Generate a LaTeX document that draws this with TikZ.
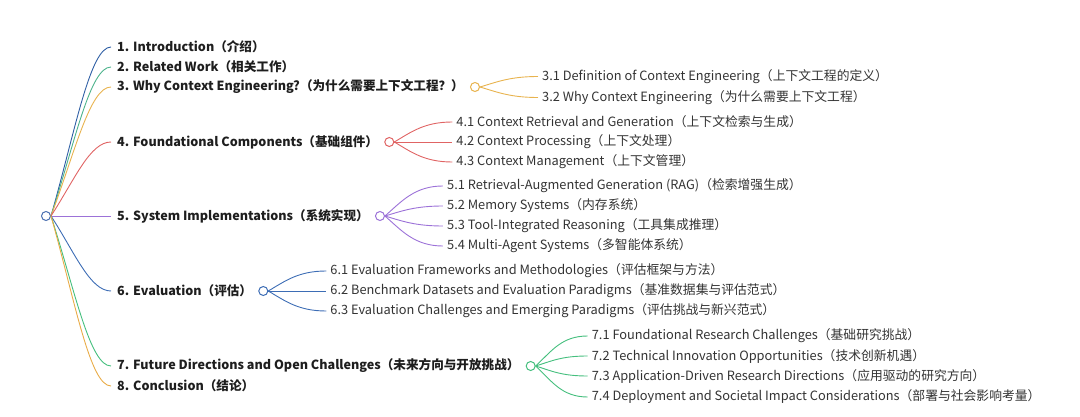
\documentclass[tikz,border=0pt]{standalone}
\usepackage{fontspec}
\setmainfont{Noto Sans CJK SC}
\usetikzlibrary{positioning}
\definecolor{cRoot}{HTML}{4A6FB0}
\definecolor{cIntro}{HTML}{2F5FA5}
\definecolor{cRelated}{HTML}{4DB38C}
\definecolor{cWhy}{HTML}{E8B34E}
\definecolor{cFound}{HTML}{E06464}
\definecolor{cSys}{HTML}{9C72D8}
\definecolor{cEval}{HTML}{3D6DB5}
\definecolor{cFuture}{HTML}{45BF7E}
\definecolor{cConcl}{HTML}{E9AC48}
\definecolor{inkdark}{HTML}{1E1E1E}
\definecolor{inksub}{HTML}{333333}
\tikzset{
  topic/.style={anchor=west, inner xsep=6pt, inner ysep=0pt, font=\fontsize{12.6}{14}\selectfont\bfseries, text=inkdark},
  sub/.style={inner xsep=4pt, inner ysep=0pt, font=\fontsize{12.8}{14}\selectfont, text=inksub},
  hub/.style={draw, circle, minimum size=9pt, inner sep=0pt, line width=1pt, fill=white},
  branch/.style={line width=0.9pt},
}
\begin{document}
\begin{tikzpicture}[x=1pt, y=-1pt]
  \useasboundingbox (0,0) rectangle (1080,417);
  % root and main topics
  \node[hub, draw=cRoot] (root) at (46,216) {};
  \node[topic] (t1) at (111,47) {1. Introduction（介绍）};
  \node[topic] (t2) at (111,67) {2. Related Work（相关工作）};
  \node[topic] (t3) at (111,87) {3. Why Context Engineering?（为什么需要上下文工程？）};
  \node[topic] (t4) at (111,142) {4. Foundational Components（基础组件）};
  \node[topic] (t5) at (111,216) {5. System Implementations（系统实现）};
  \node[topic] (t6) at (111,291) {6. Evaluation（评估）};
  \node[topic] (t7) at (111,366) {7. Future Directions and Open Challenges（未来方向与开放挑战）};
  \node[topic] (t8) at (111,386) {8. Conclusion（结论）};
  \draw[branch, cIntro] (root.east) .. controls +(24,-84) and +(-21,0) .. (t1.west);
  \draw[branch, cRelated] (root.east) .. controls +(24,-74) and +(-21,0) .. (t2.west);
  \draw[branch, cWhy] (root.east) .. controls +(24,-64) and +(-21,0) .. (t3.west);
  \draw[branch, cFound] (root.east) .. controls +(24,-37) and +(-21,0) .. (t4.west);
  \draw[branch, cSys] (root.east) -- (t5.west);
  \draw[branch, cEval] (root.east) .. controls +(24,37) and +(-21,0) .. (t6.west);
  \draw[branch, cFuture] (root.east) .. controls +(24,75) and +(-21,0) .. (t7.west);
  \draw[branch, cConcl] (root.east) .. controls +(24,85) and +(-21,0) .. (t8.west);
  % section 3
  \node[hub, draw=cWhy, right=0pt of t3] (h3) {};
  \node[sub, right=58pt of h3, yshift=10.5pt] (s31) {3.1 Definition of Context Engineering（上下文工程的定义）};
  \node[sub, right=58pt of h3, yshift=-10.5pt] (s32) {3.2 Why Context Engineering（为什么需要上下文工程）};
  \draw[branch, cWhy] (h3.east) .. controls +(17,-5) and +(-28,0) .. (s31.west);
  \draw[branch, cWhy] (h3.east) .. controls +(17,5) and +(-28,0) .. (s32.west);
  % section 4
  \node[hub, draw=cFound, right=0pt of t4] (h4) {};
  \node[sub, right=58pt of h4, yshift=20pt] (s41) {4.1 Context Retrieval and Generation（上下文检索与生成）};
  \node[sub, right=58pt of h4] (s42) {4.2 Context Processing（上下文处理）};
  \node[sub, right=58pt of h4, yshift=-20pt] (s43) {4.3 Context Management（上下文管理）};
  \draw[branch, cFound] (h4.east) .. controls +(17,-10) and +(-28,0) .. (s41.west);
  \draw[branch, cFound] (h4.east) -- (s42.west);
  \draw[branch, cFound] (h4.east) .. controls +(17,10) and +(-28,0) .. (s43.west);
  % section 5
  \node[hub, draw=cSys, right=0pt of t5] (h5) {};
  \node[sub, right=58pt of h5, yshift=30pt] (s51) {5.1 Retrieval-Augmented Generation (RAG)（检索增强生成）};
  \node[sub, right=58pt of h5, yshift=10pt] (s52) {5.2 Memory Systems（内存系统）};
  \node[sub, right=58pt of h5, yshift=-10pt] (s53) {5.3 Tool-Integrated Reasoning（工具集成推理）};
  \node[sub, right=58pt of h5, yshift=-30pt] (s54) {5.4 Multi-Agent Systems（多智能体系统）};
  \draw[branch, cSys] (h5.east) .. controls +(17,-15) and +(-28,0) .. (s51.west);
  \draw[branch, cSys] (h5.east) .. controls +(17,-5) and +(-28,0) .. (s52.west);
  \draw[branch, cSys] (h5.east) .. controls +(17,5) and +(-28,0) .. (s53.west);
  \draw[branch, cSys] (h5.east) .. controls +(17,15) and +(-28,0) .. (s54.west);
  % section 6
  \node[hub, draw=cEval, right=0pt of t6] (h6) {};
  \node[sub, right=58pt of h6, yshift=20pt] (s61) {6.1 Evaluation Frameworks and Methodologies（评估框架与方法）};
  \node[sub, right=58pt of h6] (s62) {6.2 Benchmark Datasets and Evaluation Paradigms（基准数据集与评估范式）};
  \node[sub, right=58pt of h6, yshift=-20pt] (s63) {6.3 Evaluation Challenges and Emerging Paradigms（评估挑战与新兴范式）};
  \draw[branch, cEval] (h6.east) .. controls +(17,-10) and +(-28,0) .. (s61.west);
  \draw[branch, cEval] (h6.east) -- (s62.west);
  \draw[branch, cEval] (h6.east) .. controls +(17,10) and +(-28,0) .. (s63.west);
  % section 7
  \node[hub, draw=cFuture, right=0pt of t7] (h7) {};
  \node[sub, right=52pt of h7, yshift=30pt] (s71) {7.1 Foundational Research Challenges（基础研究挑战）};
  \node[sub, right=52pt of h7, yshift=10pt] (s72) {7.2 Technical Innovation Opportunities（技术创新机遇）};
  \node[sub, right=52pt of h7, yshift=-10pt] (s73) {7.3 Application-Driven Research Directions（应用驱动的研究方向）};
  \node[sub, right=52pt of h7, yshift=-31pt] (s74) {7.4 Deployment and Societal Impact Considerations（部署与社会影响考量）};
  \draw[branch, cFuture] (h7.east) .. controls +(16,-15) and +(-26,0) .. (s71.west);
  \draw[branch, cFuture] (h7.east) .. controls +(16,-5) and +(-26,0) .. (s72.west);
  \draw[branch, cFuture] (h7.east) .. controls +(16,5) and +(-26,0) .. (s73.west);
  \draw[branch, cFuture] (h7.east) .. controls +(16,15) and +(-26,0) .. (s74.west);
\end{tikzpicture}
\end{document}
